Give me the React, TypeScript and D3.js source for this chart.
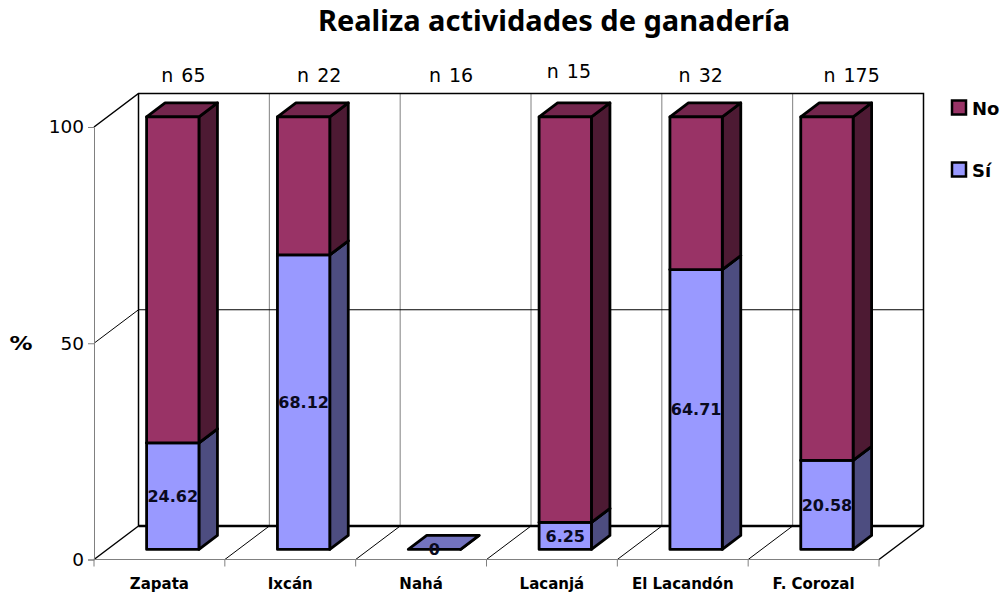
import React, { useRef, useEffect } from 'react';
import * as d3 from 'd3';

const categories = ['Zapata', 'Ixcán', 'Nahá', 'Lacanjá', 'El Lacandón', 'F. Corozal'];
const siValues = [24.62, 68.12, 0, 6.25, 64.71, 20.58];
const noValues = [75.38, 31.88, 0, 93.75, 35.29, 79.42];
const nLabels = ['n 65', 'n 22', 'n 16', 'n 15', 'n 32', 'n 175'];
const yTicks = [0, 50, 100];
const seriesKeys = ['si', 'no'];

const WIDTH = 1003;
const HEIGHT = 597;
const FONT = '"DejaVu Sans", sans-serif';

// hand placed "n" labels in the original chart, offsets from the band centre
const nNudgeX = [24, 29, 30, 17, 18, 38];
const nNudgeY = [0, 0, 0, -4, 0, 0];

const colors = {
  si: { front: '#9999ff', side: '#4d4d80', top: '#7373bf' },
  no: { front: '#993366', side: '#4d1a33', top: '#73264d' },
};

const App = () => {
  const svgRef = useRef<SVGSVGElement>(null);

  useEffect(() => {
    const svg = d3.select(svgRef.current);
    svg.selectAll('*').remove();

    // front plane of the 3D box and its depth offset
    const left = 94;
    const right = 879;
    const depthX = 44.5;
    const depthY = -33.5;

    const x = d3.scaleBand().domain(categories).range([left, right]).paddingInner(0.6).paddingOuter(0.3);
    const y = d3.scaleLinear().domain([0, 100]).range([559.5, 127]);
    const step = x.step();
    const edges = d3.range(categories.length + 1).map((i) => left + i * step);

    // bars stand part of the way into the depth
    const barX = depthX * 0.3;
    const barY = depthY * 0.3;
    const barDx = 18.5;
    const barDy = -14;

    const wall = svg.append('g').attr('fill', 'none');

    // back wall gridlines
    wall.selectAll('line.v').data(edges.slice(1, -1)).enter().append('line')
      .attr('x1', (d) => d + depthX).attr('x2', (d) => d + depthX)
      .attr('y1', y(100) + depthY).attr('y2', y(0) + depthY)
      .attr('stroke', '#808080').attr('stroke-width', 1);
    wall.append('line')
      .attr('x1', left + depthX).attr('x2', right + depthX)
      .attr('y1', y(50) + depthY).attr('y2', y(50) + depthY)
      .attr('stroke', '#000').attr('stroke-width', 1);
    wall.append('line')
      .attr('x1', left).attr('x2', left + depthX)
      .attr('y1', y(50)).attr('y2', y(50) + depthY)
      .attr('stroke', '#000').attr('stroke-width', 1);

    // floor diagonals
    wall.selectAll('line.f').data(edges.slice(1, -1)).enter().append('line')
      .attr('x1', (d) => d).attr('x2', (d) => d + depthX)
      .attr('y1', y(0)).attr('y2', y(0) + depthY)
      .attr('stroke', '#000').attr('stroke-width', 1);

    // box outline
    wall.append('path')
      .attr('d', d3.line()([
        [left, y(100)], [left + depthX, y(100) + depthY], [right + depthX, y(100) + depthY],
        [right + depthX, y(0) + depthY], [right, y(0)],
      ]))
      .attr('stroke', '#000').attr('stroke-width', 1.5);
    wall.append('path')
      .attr('d', d3.line()([[left, y(0)], [left + depthX, y(0) + depthY], [left + depthX, y(100) + depthY]]))
      .attr('stroke', '#000').attr('stroke-width', 1.5);
    wall.append('line')
      .attr('x1', left + depthX).attr('x2', right + depthX)
      .attr('y1', y(0) + depthY).attr('y2', y(0) + depthY)
      .attr('stroke', '#000').attr('stroke-width', 2.5);

    // stacked bars
    const rows = categories.map((c, i) => ({ c, si: siValues[i], no: noValues[i] }));
    const stacked = d3.stack().keys(seriesKeys)(rows as any);
    const bw = x.bandwidth();

    stacked.forEach((layer) => {
      const col = colors[layer.key];
      const g = svg.append('g').attr('stroke', '#000').attr('stroke-width', 2.8).attr('stroke-linejoin', 'round');
      layer.forEach((d, i) => {
        const x0 = x(categories[i]) + barX;
        const x1 = x0 + bw;
        const yb = y(d[0]) + barY;
        const yt = y(d[1]) + barY;
        if (layer.key === 'no' && d[1] === d[0]) return;
        g.append('path').attr('fill', col.side)
          .attr('d', d3.line()([[x1, yb], [x1 + barDx, yb + barDy], [x1 + barDx, yt + barDy], [x1, yt]]) + 'Z');
        g.append('path').attr('fill', col.top)
          .attr('d', d3.line()([[x0, yt], [x0 + barDx, yt + barDy], [x1 + barDx, yt + barDy], [x1, yt]]) + 'Z');
        g.append('rect').attr('fill', col.front)
          .attr('x', x0).attr('y', yt).attr('width', bw).attr('height', yb - yt);
      });
    });

    // value labels on the Sí segment
    svg.append('g').selectAll('text').data(siValues).enter().append('text')
      .attr('x', (d, i) => x(categories[i]) + barX + bw / 2)
      .attr('y', (d) => y(d / 2) + barY)
      .attr('dy', '0.36em')
      .attr('text-anchor', 'middle')
      .attr('font-family', FONT).attr('font-size', 16).attr('font-weight', 'bold').attr('fill', '#0a0a1e')
      .text((d) => String(d));

    // y axis
    const yAxis = svg.append('g').attr('transform', `translate(${left},0)`)
      .call(d3.axisLeft(y).tickValues(yTicks).tickSize(6).tickPadding(4).tickFormat(d3.format('d')));
    yAxis.select('.domain').attr('stroke', '#808080');
    yAxis.selectAll('line').attr('stroke', '#808080');
    yAxis.selectAll('text').attr('font-family', FONT).attr('font-size', 18.5).attr('fill', '#000');

    // x axis: ticks sit on the band edges, labels on the centres
    const xAxis = svg.append('g').attr('transform', `translate(0,${y(0)})`)
      .call(d3.axisBottom(x).tickSize(0).tickPadding(19));
    xAxis.select('.domain').remove();
    xAxis.selectAll('text').attr('font-family', FONT).attr('font-size', 15).attr('font-weight', 'bold').attr('fill', '#000');
    svg.append('line').attr('x1', left).attr('x2', right).attr('y1', y(0)).attr('y2', y(0)).attr('stroke', '#808080');
    svg.append('g').selectAll('line').data(edges).enter().append('line')
      .attr('x1', (d) => d).attr('x2', (d) => d)
      .attr('y1', y(0)).attr('y2', y(0) + 7)
      .attr('stroke', '#808080');

    // n labels above the chart
    svg.append('g').selectAll('text').data(nLabels).enter().append('text')
      .attr('x', (d, i) => x(categories[i]) + bw / 2 + nNudgeX[i])
      .attr('y', (d, i) => 82 + nNudgeY[i])
      .attr('text-anchor', 'middle')
      .attr('font-family', FONT).attr('font-size', 19).attr('word-spacing', 2).attr('fill', '#000')
      .text((d) => d);

    // title
    svg.append('text').attr('x', 554).attr('y', 31).attr('text-anchor', 'middle')
      .attr('font-family', '"Noto Sans", sans-serif').attr('font-size', 29).attr('font-weight', 'bold').attr('fill', '#000')
      .text('Realiza actividades de ganadería');

    // % label
    svg.append('text').attr('x', 21).attr('y', 350).attr('text-anchor', 'middle')
      .attr('font-family', FONT).attr('font-size', 19).attr('font-weight', 'bold').attr('fill', '#000')
      .attr('textLength', 23).attr('lengthAdjust', 'spacingAndGlyphs')
      .text('%');

    // legend
    const legend = [
      { label: 'No', col: colors.no.front, top: 100.5 },
      { label: 'Sí', col: colors.si.front, top: 162.5 },
    ];
    const lg = svg.append('g');
    legend.forEach((l) => {
      lg.append('rect').attr('x', 952).attr('y', l.top).attr('width', 14).attr('height', 14)
        .attr('fill', l.col).attr('stroke', '#000').attr('stroke-width', 2.5);
      lg.append('text').attr('x', 972).attr('y', l.top + 14)
        .attr('font-family', FONT).attr('font-size', 18).attr('font-weight', 'bold').attr('fill', '#000')
        .text(l.label);
    });
  }, []);

  return (
    <svg
      ref={svgRef}
      width={WIDTH}
      height={HEIGHT}
      style={{ position: 'absolute', left: 0, top: 0, background: '#fff' }}
    />
  );
};

export default App;
